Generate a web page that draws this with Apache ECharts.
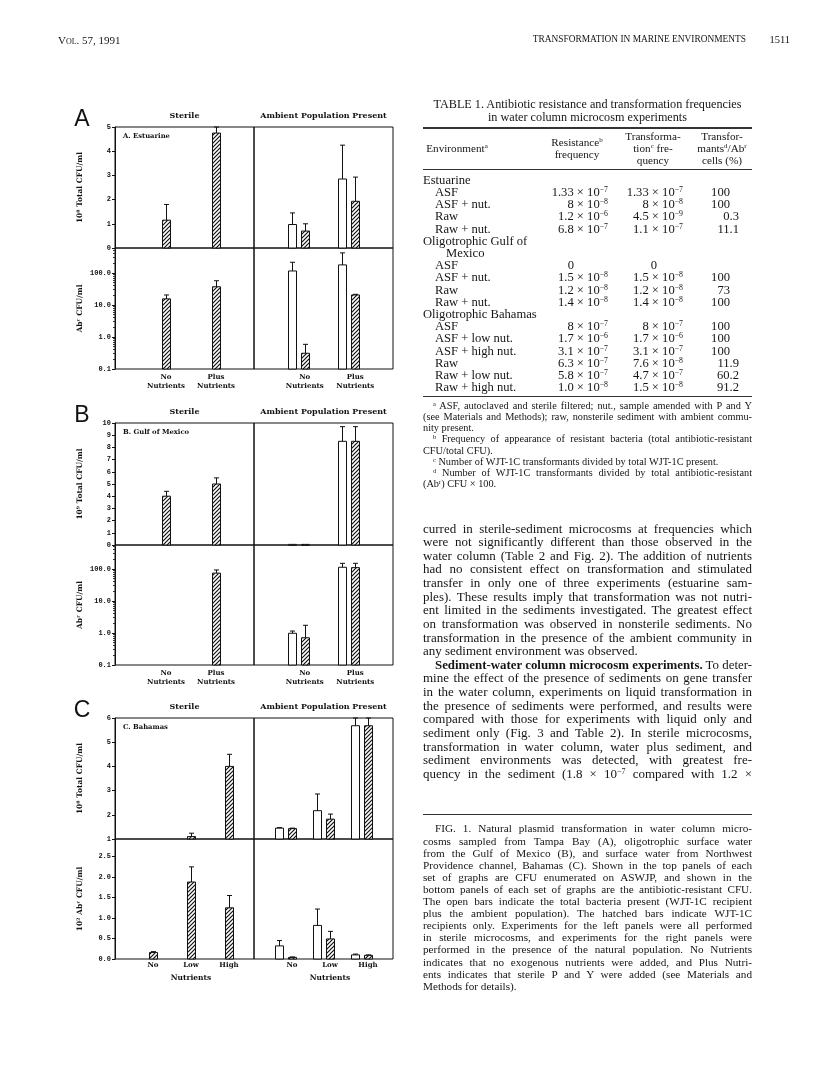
<!DOCTYPE html>
<html><head><meta charset="utf-8">
<script src="https://cdn.jsdelivr.net/npm/echarts@6/dist/echarts.min.js"></script>
<style>
body{margin:0;background:#fff;}
#page{position:relative;width:816px;height:1080px;overflow:hidden;background:#fff;}
#chart{position:absolute;left:0;top:0;width:816px;height:1080px;}
.t{position:absolute;white-space:nowrap;font-family:'Liberation Serif','Times New Roman',serif;color:#151515;}
sup{font-size:0.62em;vertical-align:0.55em;line-height:0;}
.rule{position:absolute;background:#333;}
</style></head>
<body><div id="page"><div id="chart"></div></div>
<script>
// ---------------- DATA ----------------
const catsNP = ['No\nNutrients', 'Plus\nNutrients'];
const catsNLH = ['No', 'Low', 'High'];

// A. Estuarine — top: 10^8 total CFU/ml, bottom: Ab^r CFU/ml (log)
const aTopSterileWJT = [1.15, 4.75];   const aTopSterileWJTErr = [0.65, 0.25];
const aTopAmbTotal   = [0.97, 2.85];   const aTopAmbTotalErr   = [0.48, 1.40];
const aTopAmbWJT     = [0.70, 1.93];   const aTopAmbWJTErr     = [0.30, 1.00];
const aBotSterileWJT = [15.5, 37];     const aBotSterileWJTErr = [5, 20];
const aBotAmbTotal   = [115, 178];     const aBotAmbTotalErr   = [100, 245];
const aBotAmbWJT     = [0.31, 20.5];   const aBotAmbWJTErr     = [0.28, 1.0];

// B. Gulf of Mexico — top: 10^9 total CFU/ml, bottom: Ab^r CFU/ml (log)
const bTopSterileWJT = [4.0, 5.0];     const bTopSterileWJTErr = [0.4, 0.5];
const bTopAmbTotal   = [0.05, 8.5];    const bTopAmbTotalErr   = [0, 1.2];
const bTopAmbWJT     = [0.05, 8.5];    const bTopAmbWJTErr     = [0, 1.2];
const bBotSterileWJT = [null, 74];     const bBotSterileWJTErr = [null, 19];
const bBotAmbTotal   = [0.98, 113];    const bBotAmbTotalErr   = [0.17, 37];
const bBotAmbWJT     = [0.71, 110];    const bBotAmbWJTErr     = [1.03, 40];

// C. Bahamas — top: 10^8 total CFU/ml, bottom: 10^2 Ab^r CFU/ml
const cTopSterileWJT = [null, 1.1, 4.0];    const cTopSterileWJTErr = [null, 0.14, 0.5];
const cTopAmbTotal   = [1.45, 2.17, 5.68];  const cTopAmbTotalErr   = [0.02, 0.69, 0.32];
const cTopAmbWJT     = [1.43, 1.82, 5.68];  const cTopAmbWJTErr     = [0.02, 0.21, 0.32];
const cBotSterileWJT = [0.16, 1.88, 1.25];  const cBotSterileWJTErr = [0.02, 0.37, 0.30];
const cBotAmbTotal   = [0.32, 0.82, 0.10];  const cBotAmbTotalErr   = [0.13, 0.40, 0.02];
const cBotAmbWJT     = [0.04, 0.49, 0.09];  const cBotAmbWJTErr     = [0.01, 0.185, 0.01];

// Axis texts
const axisNames = {
  aTop: '10⁸ Total CFU/ml', aBot: 'Abʳ CFU/ml',
  bTop: '10⁹ Total CFU/ml', bBot: 'Abʳ CFU/ml',
  cTop: '10⁸ Total CFU/ml', cBot: '10² Abʳ CFU/ml'
};

// ---------------- FIGURE ----------------
const FIGFONT = "'DejaVu Serif', serif";
const TICKFONT = "'Liberation Mono', 'DejaVu Sans Mono', monospace";
const BW = 8, OPEN_SHIFT = 13;

const pc = document.createElement('canvas'); pc.width = 4; pc.height = 4;
(function(){ const g = pc.getContext('2d'); g.fillStyle='#fff'; g.fillRect(0,0,4,4);
  g.strokeStyle = '#111'; g.lineWidth = 1.2; g.beginPath();
  g.moveTo(0,4); g.lineTo(4,0); g.moveTo(-1,1); g.lineTo(1,-1); g.moveTo(3,5); g.lineTo(5,3); g.stroke(); })();
const hatch = { type: 'pattern', image: pc, repeat: 'repeat' };

const FL = 115, FM = 254, FR = 393;
const figs = [
  { letter:'A', tag:'A. Estuarine', top:127, mid:248, bot:369, cats:catsNP,
    topAxis:{type:'value',min:0,max:5,interval:1}, botAxis:{type:'log',min:0.1,max:600},
    topName:axisNames.aTop, botName:axisNames.aBot, sX:[141,100], aX:[279.5,101],
    TL:[[aTopSterileWJT,aTopSterileWJTErr,'h']], TR:[[aTopAmbTotal,aTopAmbTotalErr,'o'],[aTopAmbWJT,aTopAmbWJTErr,'h']],
    BL:[[aBotSterileWJT,aBotSterileWJTErr,'h']], BR:[[aBotAmbTotal,aBotAmbTotalErr,'o'],[aBotAmbWJT,aBotAmbWJTErr,'h']] },
  { letter:'B', tag:'B. Gulf of Mexico', top:423, mid:545, bot:665, cats:catsNP,
    topAxis:{type:'value',min:0,max:10,interval:1}, botAxis:{type:'log',min:0.1,max:560},
    topName:axisNames.bTop, botName:axisNames.bBot, sX:[141,100], aX:[279.5,101],
    TL:[[bTopSterileWJT,bTopSterileWJTErr,'h']], TR:[[bTopAmbTotal,bTopAmbTotalErr,'o'],[bTopAmbWJT,bTopAmbWJTErr,'h']],
    BL:[[bBotSterileWJT,bBotSterileWJTErr,'h']], BR:[[bBotAmbTotal,bBotAmbTotalErr,'o'],[bBotAmbWJT,bBotAmbWJTErr,'h']] },
  { letter:'C', tag:'C. Bahamas', top:718, mid:839, bot:959, cats:catsNLH,
    topAxis:{type:'value',min:1,max:6,interval:1}, botAxis:{type:'value',min:0,max:2.93,interval:0.5},
    topName:axisNames.cTop, botName:axisNames.cBot, sX:[134,114], aX:[273,114], xName:'Nutrients',
    TL:[[cTopSterileWJT,cTopSterileWJTErr,'h']], TR:[[cTopAmbTotal,cTopAmbTotalErr,'o'],[cTopAmbWJT,cTopAmbWJTErr,'h']],
    BL:[[cBotSterileWJT,cBotSterileWJTErr,'h']], BR:[[cBotAmbTotal,cBotAmbTotalErr,'o'],[cBotAmbWJT,cBotAmbWJTErr,'h']] }
];

function fmtFor(ax) {
  if (ax.type === 'log') return v => { const l = Math.log10(v); return Math.abs(l - Math.round(l)) < 1e-6 ? v.toFixed(1) : ''; };
  if (ax.interval === 0.5) return v => Math.abs(v*2 - Math.round(v*2)) < 1e-6 ? v.toFixed(1) : '';
  return v => Math.abs(v - Math.round(v)) < 1e-6 ? String(Math.round(v)) : '';
}

function render(kind, base) {
  return function (params, api) {
    const c = api.value(0), v = api.value(1), e = api.value(2);
    if (v == null || isNaN(v)) return null;
    const cs = params.coordSys;
    const p = api.coord([c, v]);
    const b = api.coord([c, base]);
    const cx = Math.round(p[0] + (kind === 'o' ? -OPEN_SHIFT : 0)) + 0.5;
    const top = Math.max(p[1], cs.y);
    const ch = [{ type:'rect', shape:{ x: cx - BW/2, y: top, width: BW, height: Math.max(b[1] - top, 1) },
      style:{ fill: kind === 'o' ? '#fff' : hatch, stroke:'#111', lineWidth:1 } }];
    if (e > 0) {
      const et = api.coord([c, v + e]); const ey = Math.max(et[1], cs.y);
      ch.push({ type:'line', shape:{x1:cx,y1:top,x2:cx,y2:ey}, style:{stroke:'#111',lineWidth:1} });
      ch.push({ type:'line', shape:{x1:cx-2.5,y1:ey,x2:cx+2.5,y2:ey}, style:{stroke:'#111',lineWidth:1} });
    }
    return { type:'group', children: ch };
  };
}

const grid = [], xAxis = [], yAxis = [], series = [], graphic = [];
figs.forEach(f => {
  const parts = [
    {k:'TL', left:FL, w:FM-FL, top:f.top, h:f.mid-f.top, ax:f.topAxis, name:f.topName, side:'L', row:'top'},
    {k:'TR', left:FM, w:FR-FM, top:f.top, h:f.mid-f.top, ax:f.topAxis, side:'R', row:'top'},
    {k:'BL', left:FL, w:FM-FL, top:f.mid, h:f.bot-f.mid, ax:f.botAxis, name:f.botName, side:'L', row:'bot'},
    {k:'BR', left:FM, w:FR-FM, top:f.mid, h:f.bot-f.mid, ax:f.botAxis, side:'R', row:'bot'}
  ];
  parts.forEach(p => {
    const gi = grid.length;
    grid.push({ left:p.left, top:p.top, width:p.w, height:p.h, show:true, borderColor:'#111', borderWidth:1,
      backgroundColor:'transparent', containLabel:false, outerBoundsMode:'none' });
    xAxis.push({ gridIndex:gi, type:'value', min:0, max:1, show:false });
    const yShow = p.side === 'L';
    yAxis.push(Object.assign({}, p.ax, { gridIndex:gi, show:yShow,
      name: yShow ? p.name : '', nameLocation:'middle', nameRotate:90, nameGap:31,
      nameTextStyle:{ fontFamily:FIGFONT, fontWeight:'bold', fontSize:7.5, color:'#111' },
      axisLine:{ show:true, lineStyle:{color:'#111', width:1} },
      axisTick:{ show:true, inside:false, length:3, lineStyle:{color:'#111'} },
      minorTick: p.ax.type === 'log' ? { show:true, splitNumber:9, length:2, lineStyle:{color:'#333'} } : {show:false},
      splitLine:{show:false},
      axisLabel:{ show:true, fontFamily:TICKFONT, fontWeight:'bold', fontSize:7, color:'#111', margin:4,
        formatter: fmtFor(p.ax), showMinLabel:true, showMaxLabel:true, hideOverlap:false }
    }));
    const bi = grid.length;
    const bx = p.side === 'L' ? f.sX : f.aX;
    grid.push({ left:bx[0], top:p.top, width:bx[1], height:p.h, show:false, containLabel:false, outerBoundsMode:'none' });
    const showLab = p.row === 'bot';
    xAxis.push({ gridIndex:bi, type:'category', data:f.cats, boundaryGap:true,
      axisLine:{show:false}, axisTick:{show:false},
      name: showLab && f.xName ? f.xName : '', nameLocation:'middle', nameGap:15,
      nameTextStyle:{ fontFamily:FIGFONT, fontWeight:'bold', fontSize:7.5, color:'#111' },
      axisLabel:{ show:showLab, interval:0, fontFamily:FIGFONT, fontWeight:'bold', fontSize:7, lineHeight:9,
        color:'#111', margin:f.xName ? 2 : 4 } });
    yAxis.push(Object.assign({}, p.ax, { gridIndex:bi, show:false }));
    const base = p.ax.min;
    f[p.k].forEach(s => {
      series.push({ type:'custom', xAxisIndex:bi, yAxisIndex:bi, silent:true, animation:false, clip:false,
        data: s[0].map((v, i) => [i, v == null ? '-' : v, s[1][i] == null ? 0 : s[1][i]]),
        encode:{ x:0, y:1 }, renderItem: render(s[2], base) });
    });
  });
  graphic.push({ type:'text', x:82, y:(f.top - 7), style:{ text:f.letter, font:"normal 23px 'Liberation Sans', Arial, sans-serif", fill:'#111', textAlign:'center', textVerticalAlign:'middle' } });
  graphic.push({ type:'text', x:(FL+FM)/2, y:f.top - 11, style:{ text:'Sterile', font:"bold 8px " + FIGFONT, fill:'#111', textAlign:'center', textVerticalAlign:'middle' } });
  graphic.push({ type:'text', x:(FM+FR)/2, y:f.top - 11, style:{ text:'Ambient Population Present', font:"bold 8px " + FIGFONT, fill:'#111', textAlign:'center', textVerticalAlign:'middle' } });
  graphic.push({ type:'text', x:FL + 8, y:f.top + 9, style:{ text:f.tag, font:"bold 6.8px " + FIGFONT, fill:'#111', textAlign:'left', textVerticalAlign:'middle' } });
});

const chart = echarts.init(document.getElementById('chart'), null, { renderer:'canvas' });
chart.setOption({ animation:false, backgroundColor:'transparent', grid, xAxis, yAxis, series, graphic });

// ---------------- PAGE TEXT ----------------
const headerLeft = 'Vol. 57, 1991';
const headerRight = 'TRANSFORMATION IN MARINE ENVIRONMENTS';
const pageNumber = '1511';

const tableTitle = ['TABLE 1. Antibiotic resistance and transformation frequencies', 'in water column microcosm experiments'];
const tableEnv = ['Estuarine','ASF','ASF + nut.','Raw','Raw + nut.','Oligotrophic Gulf of','Mexico','ASF','ASF + nut.','Raw','Raw + nut.','Oligotrophic Bahamas','ASF','ASF + low nut.','ASF + high nut.','Raw','Raw + low nut.','Raw + high nut.'];
const tableIndent = [0,1,1,1,1,0,2,1,1,1,1,0,1,1,1,1,1,1];
const tableResist = ['','1.33 × 10<sup>−7</sup>','8 × 10<sup>−8</sup>','1.2 × 10<sup>−6</sup>','6.8 × 10<sup>−7</sup>','','','0','1.5 × 10<sup>−8</sup>','1.2 × 10<sup>−8</sup>','1.4 × 10<sup>−8</sup>','','8 × 10<sup>−7</sup>','1.7 × 10<sup>−6</sup>','3.1 × 10<sup>−7</sup>','6.3 × 10<sup>−7</sup>','5.8 × 10<sup>−7</sup>','1.0 × 10<sup>−8</sup>'];
const tableTransf = ['','1.33 × 10<sup>−7</sup>','8 × 10<sup>−8</sup>','4.5 × 10<sup>−9</sup>','1.1 × 10<sup>−7</sup>','','','0','1.5 × 10<sup>−8</sup>','1.2 × 10<sup>−8</sup>','1.4 × 10<sup>−8</sup>','','8 × 10<sup>−7</sup>','1.7 × 10<sup>−6</sup>','3.1 × 10<sup>−7</sup>','7.6 × 10<sup>−8</sup>','4.7 × 10<sup>−7</sup>','1.5 × 10<sup>−8</sup>'];
const tablePct = ['','100','100','0.3','11.1','','','','100','73','100','','100','100','100','11.9','60.2','91.2'];

const footnotes = [
  ['<sup>a</sup> ASF, autoclaved and sterile filtered; nut., sample amended with P and Y', 1, 1],
  ['(see Materials and Methods); raw, nonsterile sediment with ambient commu-', 0, 1],
  ['nity present.', 0, 0],
  ['<sup>b</sup> Frequency of appearance of resistant bacteria (total antibiotic-resistant', 1, 1],
  ['CFU/total CFU).', 0, 0],
  ['<sup>c</sup> Number of WJT-1C transformants divided by total WJT-1C present.', 1, 0],
  ['<sup>d</sup> Number of WJT-1C transformants divided by total antibiotic-resistant', 1, 1],
  ['(Ab<sup>r</sup>) CFU × 100.', 0, 0]
];

const bodyLines = [
  ['curred in sterile-sediment microcosms at frequencies which',0,1],
  ['were not significantly different than those observed in the',0,1],
  ['water column (Table 2 and Fig. 2). The addition of nutrients',0,1],
  ['had no consistent effect on transformation and stimulated',0,1],
  ['transfer in only one of three experiments (estuarine sam-',0,1],
  ['ples). These results imply that transformation was not nutri-',0,1],
  ['ent limited in the sediments investigated. The greatest effect',0,1],
  ['on transformation was observed in nonsterile sediments. No',0,1],
  ['transformation in the presence of the ambient community in',0,1],
  ['any sediment environment was observed.',0,0],
  ['<b>Sediment-water column microcosm experiments.</b> To deter-',1,1],
  ['mine the effect of the presence of sediments on gene transfer',0,1],
  ['in the water column, experiments on liquid transformation in',0,1],
  ['the presence of sediments were performed, and results were',0,1],
  ['compared with those for experiments with liquid only and',0,1],
  ['sediment only (Fig. 3 and Table 2). In sterile microcosms,',0,1],
  ['transformation in water column, water plus sediment, and',0,1],
  ['sediment environments was detected, with greatest fre-',0,1],
  ['quency in the sediment (1.8 × 10<sup>−7</sup> compared with 1.2 ×',0,1]
];

const captionLines = [
  ['FIG. 1. Natural plasmid transformation in water column micro-',1,1],
  ['cosms sampled from Tampa Bay (A), oligotrophic surface water',0,1],
  ['from the Gulf of Mexico (B), and surface water from Northwest',0,1],
  ['Providence channel, Bahamas (C). Shown in the top panels of each',0,1],
  ['set of graphs are CFU enumerated on ASWJP, and shown in the',0,1],
  ['bottom panels of each set of graphs are the antibiotic-resistant CFU.',0,1],
  ['The open bars indicate the total bacteria present (WJT-1C recipient',0,1],
  ['plus the ambient population). The hatched bars indicate WJT-1C',0,1],
  ['recipients only. Experiments for the left panels were all performed',0,1],
  ['in sterile microcosms, and experiments for the right panels were',0,1],
  ['performed in the presence of the natural population. No Nutrients',0,1],
  ['indicates that no exogenous nutrients were added, and Plus Nutri-',0,1],
  ['ents indicates that sterile P and Y were added (see Materials and',0,1],
  ['Methods for details).',0,0]
];

// ---------------- PAGE TEXT LAYOUT ----------------
const page = document.getElementById('page');
function put(html, x, y, o) {
  const d = document.createElement('div');
  d.className = 't';
  d.innerHTML = html;
  d.style.fontSize = o.fs + 'px'; d.style.lineHeight = o.fs + 'px';
  d.style.top = (y - o.fs / 2 - 1) + 'px';
  if (o.sc) d.style.fontVariant = 'small-caps';
  if (o.align === 'center') { d.style.left = (x - 250) + 'px'; d.style.width = '500px'; d.style.textAlign = 'center'; }
  else if (o.align === 'right') { d.style.left = (x - 300) + 'px'; d.style.width = '300px'; d.style.textAlign = 'right'; }
  else { d.style.left = x + 'px'; }
  page.appendChild(d);
  if (o.w) {
    const nat = d.getBoundingClientRect().width;
    if (nat > o.w) { d.style.transformOrigin = '0 0'; d.style.transform = 'scaleX(' + (o.w / nat) + ')'; }
    else if (o.j) {
      const spaces = (d.textContent.match(/ /g) || []).length;
      if (spaces) d.style.wordSpacing = ((o.w - nat) / spaces) + 'px';
    }
  }
}
function rule(x, y, w, h) { const r = document.createElement('div'); r.className = 'rule';
  r.style.left = x + 'px'; r.style.top = y + 'px'; r.style.width = w + 'px'; r.style.height = h + 'px'; page.appendChild(r); }

const CL = 423, CW = 329;
put(headerLeft, 58, 41, { fs:11, sc:true });
put(headerRight, 746, 41, { fs:9.4, align:'right' });
put(pageNumber, 790, 41, { fs:10.5, align:'right' });

put(tableTitle[0], CL + CW/2, 105, { fs:12.2, align:'center' });
put(tableTitle[1], CL + CW/2, 118, { fs:12.2, align:'center' });
rule(CL, 127, CW, 1.6);
put('Environment<sup>a</sup>', 457, 150, { fs:11.2, align:'center' });
put('Resistance<sup>b</sup>', 577, 144, { fs:11.2, align:'center' });
put('frequency', 577, 156, { fs:11.2, align:'center' });
put('Transforma-', 653, 138, { fs:11.2, align:'center' });
put('tion<sup>c</sup> fre-', 653, 150, { fs:11.2, align:'center' });
put('quency', 653, 162, { fs:11.2, align:'center' });
put('Transfor-', 722, 138, { fs:11.2, align:'center' });
put('mants<sup>d</sup>/Ab<sup>r</sup>', 722, 150, { fs:11.2, align:'center' });
put('cells (%)', 722, 162, { fs:11.2, align:'center' });
rule(CL, 169, CW, 0.8);
tableEnv.forEach((e, i) => {
  const y = 181 + i * 12.2;
  const x = [CL, 435, 446][tableIndent[i]];
  put(e, x, y, { fs:12.6 });
  if (tableResist[i] === '0') put('0', 571, y, { fs:12.6, align:'center' });
  else if (tableResist[i]) put(tableResist[i], 608, y, { fs:12.6, align:'right' });
  if (tableTransf[i] === '0') put('0', 654, y, { fs:12.6, align:'center' });
  else if (tableTransf[i]) put(tableTransf[i], 683, y, { fs:12.6, align:'right' });
  if (tablePct[i]) put(tablePct[i], tablePct[i].indexOf('.') >= 0 ? 739 : 730, y, { fs:12.6, align:'right' });
});
rule(CL, 396, CW, 0.9);
footnotes.forEach((f, i) => {
  const y = 407 + i * 11.2;
  const ind = f[1] ? 10 : 0;
  put(f[0], CL + ind, y, { fs:10.3, j:f[2], w:CW - ind });
});
bodyLines.forEach((l, i) => {
  const y = 529 + i * 13.63;
  const ind = l[1] ? 12 : 0;
  put(l[0], CL + ind, y, { fs:13, j:l[2], w:CW - ind });
});
rule(CL, 814, CW, 0.8);
captionLines.forEach((l, i) => {
  const y = 830 + i * 12.1;
  const ind = l[1] ? 12 : 0;
  put(l[0], CL + ind, y, { fs:11.2, j:l[2], w:CW - ind });
});
</script>
</body></html>
